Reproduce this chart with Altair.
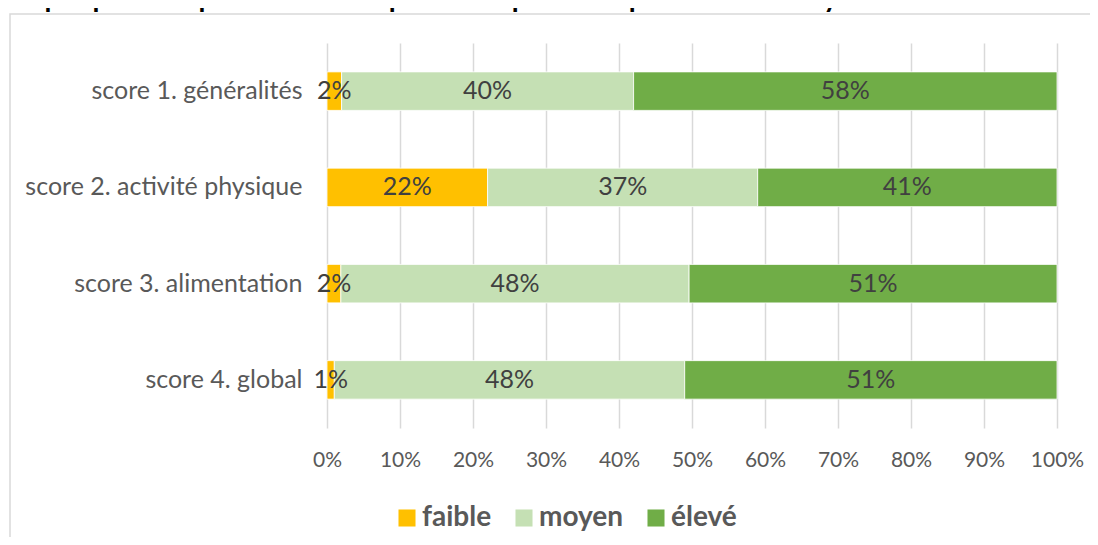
import altair as alt
import pandas as pd

title_text = "Graphique 6. Répartition des répondants pour chaque score de croyances"
categories = ["score 1. généralités", "score 2. activité physique", "score 3. alimentation", "score 4. global"]
series = ["faible", "moyen", "élevé"]
colors = ["#FFC000", "#C5E0B4", "#70AD47"]
faible = [2, 22, 1.9, 1]
moyen = [40, 37, 47.7, 48]
eleve = [58, 41, 50.4, 51]
faible_lbl = ["2%", "22%", "2%", "1%"]
moyen_lbl = ["40%", "37%", "48%", "48%"]
eleve_lbl = ["58%", "41%", "51%", "51%"]
ticks = [0, 10, 20, 30, 40, 50, 60, 70, 80, 90, 100]

rows = []
for i, c in enumerate(categories):
    start = 0.0
    for s, vals, lbls in zip(series, [faible, moyen, eleve], [faible_lbl, moyen_lbl, eleve_lbl]):
        v = vals[i]
        rows.append({"cat": c, "serie": s, "start": start, "end": start + v,
                     "mid": start + v / 2, "label": lbls[i]})
        start += v
df = pd.DataFrame(rows)

FONT = "Lato"

base = alt.Chart(df)

bars = base.mark_bar(stroke="white", strokeWidth=0.8).encode(
    y=alt.Y("cat:N", sort=categories, title=None,
            scale=alt.Scale(paddingInner=0.6, paddingOuter=0.3),
            axis=alt.Axis(ticks=False, domain=False, labelFontSize=25, labelColor="#595959",
                          labelFont=FONT, labelPadding=25, labelLimit=400)),
    x=alt.X("start:Q", title=None,
            scale=alt.Scale(domain=[0, 100], nice=False),
            axis=alt.Axis(values=ticks, labelExpr="datum.value + '%'", grid=True,
                          gridColor="#d9d9d9", gridWidth=1.5, domain=False, ticks=False,
                          labelFontSize=21, labelColor="#595959", labelFont=FONT,
                          labelPadding=21, labelFlush=False, labelOverlap=False)),
    x2="end:Q",
    color=alt.Color("serie:N", scale=alt.Scale(domain=series, range=colors),
                    legend=alt.Legend(title=None, orient="none", legendX=66, legendY=461,
                                      direction="horizontal", symbolType="square",
                                      symbolSize=290, symbolStrokeWidth=0, symbolOpacity=1,
                                      labelFontSize=28, labelFontWeight="bold",
                                      labelColor="#595959", labelFont=FONT,
                                      labelOffset=1, columnPadding=18)),
)

texts = base.mark_text(fontSize=25, color="#404040", font=FONT).encode(
    y=alt.Y("cat:N", sort=categories),
    x=alt.X("mid:Q"),
    text="label:N",
)

frame = alt.Chart(alt.Data(values=[{"a": 1}])).mark_rect(
    fill="transparent", stroke="#d9d9d9", strokeWidth=1.5
).encode(
    x=alt.value(-317), x2=alt.value(800), y=alt.value(-29), y2=alt.value(560)
)

title = alt.Chart(alt.Data(values=[{"t": title_text}])).mark_text(
    align="left", baseline="alphabetic", fontSize=28, fontWeight="bold", font=FONT, color="#000000"
).encode(
    x=alt.value(-327), y=alt.value(-36), text="t:N"
)

chart = alt.layer(frame, bars, texts, title).properties(
    width=730, height=385,
    autosize=alt.AutoSizeParams(type="none"),
    padding={"left": 319, "top": 35, "right": 33, "bottom": 109},
).configure_view(stroke=None)

chart.save("out.html", embed_options={"renderer": "svg", "actions": False})
